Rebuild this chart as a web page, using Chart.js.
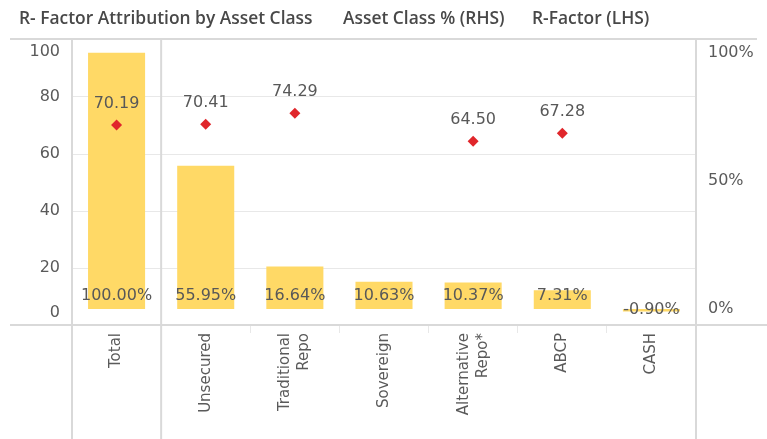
<!DOCTYPE html>
<html>
<head>
<meta charset="utf-8">
<script src="https://cdn.jsdelivr.net/npm/chart.js@4/dist/chart.umd.min.js"></script>
<style>
html,body{margin:0;padding:0;background:#fff;}
#wrap{position:relative;width:767px;height:439px;overflow:hidden;}
#c{position:absolute;left:0;top:0;}
.t{position:absolute;top:5px;font-family:"Open Sans",sans-serif;font-weight:600;font-size:17.4px;line-height:24px;color:#484848;white-space:nowrap;}
</style>
</head>
<body>
<div id="wrap">
<canvas id="c" width="767" height="439"></canvas>
<div class="t" style="left:19px">R- Factor Attribution by Asset Class</div>
<div class="t" style="left:343px">Asset Class % (RHS)</div>
<div class="t" style="left:532px">R-Factor (LHS)</div>
</div>
<script>
const categories = ['Total', 'Unsecured', ['Traditional', 'Repo'], 'Sovereign', ['Alternative', 'Repo*'], 'ABCP', 'CASH'];
const assetClassPct = [100.00, 55.95, 16.64, 10.63, 10.37, 7.31, -0.90];
const rFactor = [70.19, 70.41, 74.29, null, 64.50, 67.28, null];
const leftTicks = [0, 20, 40, 60, 80, 100];
const rightTicks = [0, 50, 100];

const FONT = '"DejaVu Sans", sans-serif';
const TXT = '#5a5a5a';

const decor = {
  id: 'decor',
  beforeDatasetsDraw(chart) {
    const ctx = chart.ctx, a = chart.chartArea, xs = chart.scales.x;
    ctx.save();
    ctx.strokeStyle = '#d9d9d9';
    ctx.lineWidth = 2;
    ctx.beginPath();
    ctx.moveTo(10, a.top - 1); ctx.lineTo(757, a.top - 1);
    ctx.moveTo(10, a.bottom); ctx.lineTo(767, a.bottom);
    const sep = (xs.getPixelForValue(0) + xs.getPixelForValue(1)) / 2;
    [a.left, sep, a.right].forEach(x => {
      ctx.moveTo(x, a.top - 1); ctx.lineTo(x, chart.height);
    });
    ctx.stroke();
    ctx.restore();
  },
  afterDatasetsDraw(chart) {
    const ctx = chart.ctx, a = chart.chartArea;
    ctx.save();
    ctx.font = '16px ' + FONT;
    ctx.fillStyle = '#585858';
    ctx.textAlign = 'center';
    ctx.textBaseline = 'middle';
    chart.getDatasetMeta(1).data.forEach((el, i) => {
      const v = assetClassPct[i];
      const y = v >= 0 ? el.base - 13 : el.base + 1;
      ctx.fillText(v.toFixed(2) + '%', el.x, y);
    });
    chart.getDatasetMeta(0).data.forEach((el, i) => {
      const v = rFactor[i];
      if (v === null) return;
      ctx.fillText(v.toFixed(2), el.x, el.y - 21);
    });
    const ys = chart.scales.y;
    ctx.fillStyle = TXT;
    ctx.textAlign = 'right';
    leftTicks.forEach(v => {
      let py = ys.getPixelForValue(v);
      py = Math.min(Math.max(py, a.top + 12), a.bottom - 12);
      ctx.fillText(String(v), a.left - 12, py);
    });
    const xs = chart.scales.x;
    ctx.font = '15px ' + FONT;
    const lh = 19;
    categories.forEach((cat, i) => {
      const lines = Array.isArray(cat) ? cat : [cat];
      const px = xs.getPixelForValue(i);
      lines.forEach((ln, j) => {
        const cx = px + (j - (lines.length - 1) / 2) * lh;
        ctx.save();
        ctx.translate(cx, a.bottom + 8);
        ctx.rotate(-Math.PI / 2);
        ctx.textAlign = 'right';
        ctx.textBaseline = 'middle';
        ctx.fillText(ln, 0, 0);
        ctx.restore();
      });
    });
    ctx.restore();
  }
};

new Chart(document.getElementById('c'), {
  type: 'bar',
  data: {
    labels: categories,
    datasets: [
      {
        type: 'line',
        label: 'R-Factor (LHS)',
        data: rFactor,
        yAxisID: 'y',
        showLine: false,
        pointStyle: 'rectRot',
        pointRadius: 5.5,
        pointBackgroundColor: '#e0262b',
        pointBorderColor: '#e0262b',
        pointBorderWidth: 0,
        order: 0
      },
      {
        type: 'bar',
        label: 'Asset Class % (RHS)',
        data: assetClassPct,
        yAxisID: 'y2',
        backgroundColor: '#ffd966',
        barPercentage: 0.64,
        categoryPercentage: 1,
        order: 1
      }
    ]
  },
  options: {
    responsive: false,
    animation: false,
    devicePixelRatio: 1,
    layout: { padding: { top: 40, left: 0, right: 0, bottom: 0 } },
    plugins: { legend: { display: false }, tooltip: { enabled: false }, title: { display: false } },
    scales: {
      x: {
        afterFit(s) { s.height = 114; },
        ticks: { display: false },
        grid: { offset: true, drawOnChartArea: false, drawTicks: true, tickLength: 8, color: '#e8e8e8' },
        border: { display: false }
      },
      y: {
        position: 'left',
        min: 0, max: 100,
        afterFit(s) { s.width = 72; },
        afterBuildTicks(s) { s.ticks = leftTicks.map(v => ({ value: v })); },
        ticks: { color: 'rgba(0,0,0,0)', font: { family: FONT, size: 16 } },
        grid: {
          drawTicks: false,
          color: c => (c.tick && (c.tick.value === 0 || c.tick.value === 100)) ? 'rgba(0,0,0,0)' : '#e8e8e8'
        },
        border: { display: false }
      },
      y2: {
        position: 'right',
        min: -6.2, max: 105,
        afterFit(s) { s.width = 71; },
        afterBuildTicks(s) { s.ticks = rightTicks.map(v => ({ value: v })); },
        ticks: { padding: 12, color: TXT, font: { family: FONT, size: 16 }, callback: v => v + '%' },
        grid: { display: false, drawTicks: false },
        border: { display: false }
      }
    }
  },
  plugins: [decor]
});
</script>
</body>
</html>
